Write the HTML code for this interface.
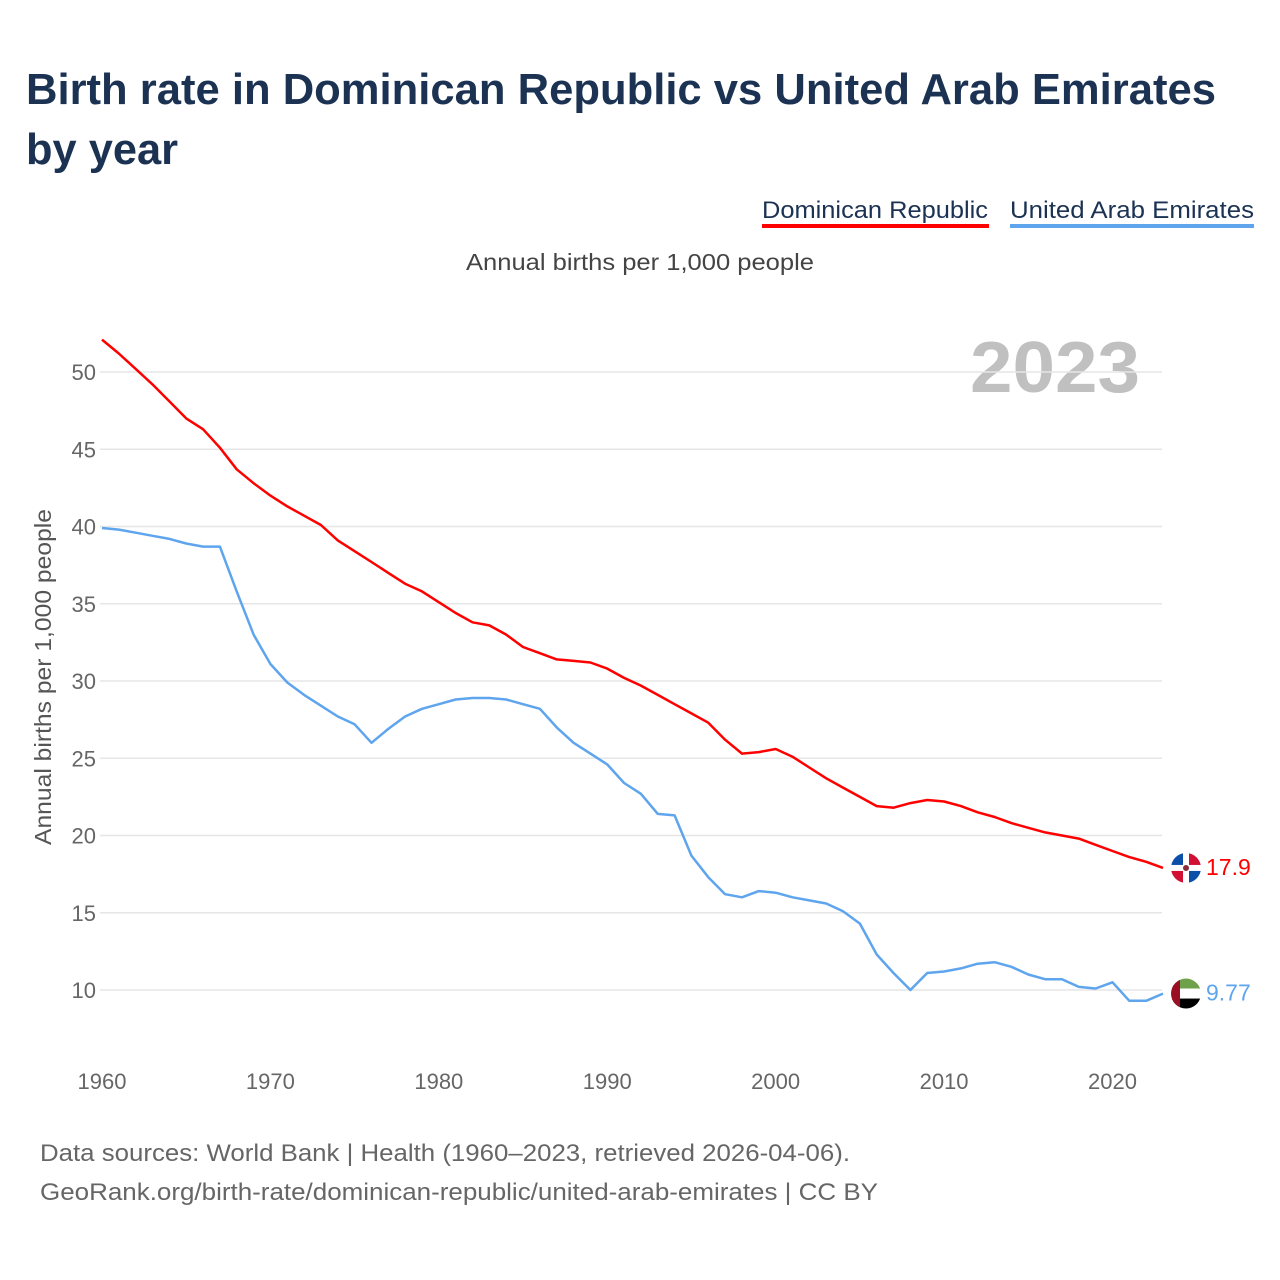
<!DOCTYPE html>
<html><head><meta charset="utf-8"><style>
body{margin:0;background:#fff;font-family:"Liberation Sans",sans-serif;}
#wrap{position:relative;width:1280px;height:1280px;overflow:hidden;}
</style></head><body>
<div id="wrap">
<svg id="chart" width="1280" height="1280" xmlns="http://www.w3.org/2000/svg">
<text x="26" y="104" font-size="44" font-weight="bold" fill="#1b3253" textLength="1190" lengthAdjust="spacingAndGlyphs">Birth rate in Dominican Republic vs United Arab Emirates</text>
<text x="26" y="164" font-size="44" font-weight="bold" fill="#1b3253" textLength="152" lengthAdjust="spacingAndGlyphs">by year</text>
<g><text x="762" y="218" font-size="24" fill="#1b3253" textLength="226" lengthAdjust="spacingAndGlyphs">Dominican Republic</text><rect x="762" y="224" width="227" height="4" fill="#ff0000"/></g>
<g><text x="1010" y="218" font-size="24" fill="#1b3253" textLength="244" lengthAdjust="spacingAndGlyphs">United Arab Emirates</text><rect x="1010" y="224" width="244" height="4" fill="#5ea5ee"/></g>
<text x="466" y="270" font-size="23" fill="#444" textLength="348" lengthAdjust="spacingAndGlyphs">Annual births per 1,000 people</text>
<text x="970" y="392" font-size="72" font-weight="bold" fill="#c0c0c0" textLength="170" lengthAdjust="spacingAndGlyphs">2023</text>
<text transform="translate(51,845) rotate(-90)" font-size="23" fill="#555" textLength="336" lengthAdjust="spacingAndGlyphs">Annual births per 1,000 people</text>
<g id="grid"></g><g id="yticks"></g><g id="xticks"></g><g id="lines"></g>
<g id="flagDR"></g>
<g id="flagUAE"></g>
<text x="40" y="1161" font-size="24" fill="#666" textLength="810" lengthAdjust="spacingAndGlyphs">Data sources: World Bank | Health (1960–2023, retrieved 2026-04-06).</text>
<text x="40" y="1200" font-size="24" fill="#666" textLength="838" lengthAdjust="spacingAndGlyphs">GeoRank.org/birth-rate/dominican-republic/united-arab-emirates | CC BY</text>
</svg>
</div>
<script>
const years = [];
for (let y = 1960; y <= 2023; y++) years.push(y);
const drValues = [52.1,51.2,50.2,49.2,48.1,47.0,46.3,45.1,43.7,42.8,42.0,41.3,40.7,40.1,39.1,38.4,37.7,37.0,36.3,35.8,35.1,34.4,33.8,33.6,33.0,32.2,31.8,31.4,31.3,31.2,30.8,30.2,29.7,29.1,28.5,27.9,27.3,26.2,25.3,25.4,25.6,25.1,24.4,23.7,23.1,22.5,21.9,21.8,22.1,22.3,22.2,21.9,21.5,21.2,20.8,20.5,20.2,20.0,19.8,19.4,19.0,18.6,18.3,17.9];
const uaeValues = [39.9,39.8,39.6,39.4,39.2,38.9,38.7,38.7,35.8,33.0,31.1,29.9,29.1,28.4,27.7,27.2,26.0,26.9,27.7,28.2,28.5,28.8,28.9,28.9,28.8,28.5,28.2,27.0,26.0,25.3,24.6,23.4,22.7,21.4,21.3,18.7,17.3,16.2,16.0,16.4,16.3,16.0,15.8,15.6,15.1,14.3,12.3,11.1,10.0,11.1,11.2,11.4,11.7,11.8,11.5,11.0,10.7,10.7,10.2,10.1,10.5,9.3,9.3,9.77];
const yTicks = [10,15,20,25,30,35,40,45,50];
const xTicks = [1960,1970,1980,1990,2000,2010,2020];
const endLabels = ["17.9","9.77"];

const NS = "http://www.w3.org/2000/svg";
const X0 = 102, X1 = 1163;
const xs = y => X0 + (y - 1960) * (X1 - X0) / (2023 - 1960);
const ys = v => 990 - (v - 10) * (990 - 372) / 40;
function mk(tag, attrs, parent) { const e = document.createElementNS(NS, tag); for (const k in attrs) e.setAttribute(k, attrs[k]); parent.appendChild(e); return e; }
const grid = document.getElementById('grid'), yt = document.getElementById('yticks'), xt = document.getElementById('xticks'), lines = document.getElementById('lines');
yTicks.forEach(v => {
  const l = mk('line', {x1: 100, x2: 1162, y1: ys(v), y2: ys(v), stroke: '#e6e6e6', 'stroke-width': 1.5}, grid);
  
  
  const t = mk('text', {x: 96, y: ys(v) + 8, 'font-size': 22, fill: '#666', 'text-anchor': 'end'}, yt);
  t.textContent = v;
  
  
});
xTicks.forEach(v => {
  const t = mk('text', {x: xs(v), y: 1089, 'font-size': 22, fill: '#666', 'text-anchor': 'middle'}, xt);
  t.textContent = v;
  
  
});
function path(vals) { return vals.map((v, i) => (i ? 'L' : 'M') + xs(years[i]).toFixed(1) + ',' + ys(v).toFixed(1)).join(''); }
const p1 = mk('path', {d: path(uaeValues), fill: 'none', stroke: '#5ea5ee', 'stroke-width': 2.5, 'stroke-linejoin': 'round'}, lines);


const p2 = mk('path', {d: path(drValues), fill: 'none', stroke: '#ff0000', 'stroke-width': 2.5, 'stroke-linejoin': 'round'}, lines);


const cx = 1186;
const dY = ys(drValues[drValues.length - 1]), uY = ys(uaeValues[uaeValues.length - 1]);
const fd = document.getElementById('flagDR');
mk('clipPath', {id: 'cDR'}, fd).appendChild(document.createElementNS(NS, 'circle'));
const cdr = fd.querySelector('#cDR circle'); cdr.setAttribute('cx', cx); cdr.setAttribute('cy', dY); cdr.setAttribute('r', 15);
const gd = mk('g', {'clip-path': 'url(#cDR)'}, fd);
mk('rect', {x: cx - 15, y: dY - 15, width: 30, height: 30, fill: '#fff'}, gd);
mk('rect', {x: cx - 15, y: dY - 15, width: 12, height: 12, fill: '#0b4fa8'}, gd);
mk('rect', {x: cx + 3, y: dY - 15, width: 12, height: 12, fill: '#d21034'}, gd);
mk('rect', {x: cx - 15, y: dY + 3, width: 12, height: 12, fill: '#d21034'}, gd);
mk('rect', {x: cx + 3, y: dY + 3, width: 12, height: 12, fill: '#0b4fa8'}, gd);
mk('circle', {cx: cx, cy: dY, r: 3, fill: '#8a2d3a'}, gd);
const fu = document.getElementById('flagUAE');
mk('clipPath', {id: 'cU'}, fu).appendChild(document.createElementNS(NS, 'circle'));
const cu = fu.querySelector('#cU circle'); cu.setAttribute('cx', cx); cu.setAttribute('cy', uY); cu.setAttribute('r', 15);
const gu = mk('g', {'clip-path': 'url(#cU)'}, fu);
mk('rect', {x: cx - 15, y: uY - 15, width: 30, height: 10, fill: '#6ea24a'}, gu);
mk('rect', {x: cx - 15, y: uY - 5, width: 30, height: 10, fill: '#fff'}, gu);
mk('rect', {x: cx - 15, y: uY + 5, width: 30, height: 10, fill: '#000'}, gu);
mk('rect', {x: cx - 15, y: uY - 15, width: 9, height: 30, fill: '#9a0f24'}, gu);
const svg = document.getElementById('chart');
const l1 = mk('text', {x: 1206, y: dY + 7, 'font-size': 23, fill: '#ff0000'}, svg);
l1.textContent = endLabels[0];


const l2 = mk('text', {x: 1206, y: uY + 7, 'font-size': 23, fill: '#5ea5ee'}, svg);
l2.textContent = endLabels[1];


</script>
</body></html>
